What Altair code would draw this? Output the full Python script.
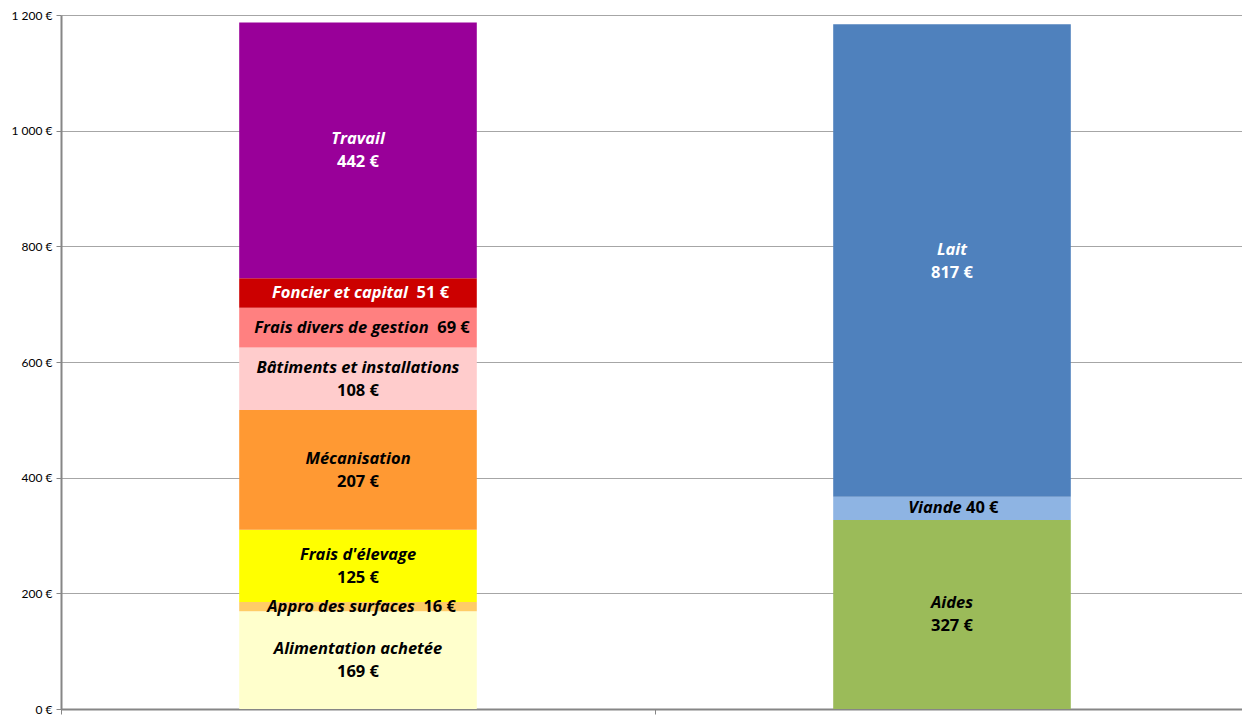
import altair as alt
import pandas as pd

groups = ["Charges", "Produits"]
cost_categories = ["Alimentation achetée", "Appro des surfaces", "Frais d'élevage", "Mécanisation",
                   "Bâtiments et installations", "Frais divers de gestion", "Foncier et capital", "Travail"]
cost_values = [169, 16, 125, 207, 108, 69, 51, 442]
product_categories = ["Aides", "Viande", "Lait"]
product_values = [327, 40, 817]
y_ticks = [0, 200, 400, 600, 800, 1000, 1200]

cost_colors = ["#FFFFCC", "#FFCC66", "#FFFF00", "#FF9933", "#FFCCCC", "#FF8080", "#CC0000", "#990099"]
product_colors = ["#9BBB59", "#8EB4E3", "#4F81BD"]
white_text = ["Foncier et capital", "Travail", "Lait"]
# single-line labels: number of spaces between name and value
one_line_spaces = {"Appro des surfaces": 2, "Frais divers de gestion": 2, "Foncier et capital": 2, "Viande": 1}

FONT = "Open Sans"
FS = 16.5
PLOT_W = 1181
PLOT_H = 694
BAND_RANGE = 1188  # band scale spans slightly past the visible area, as in the original

# approximate glyph advance widths (em) of a bold sans, used only to centre the two-part labels
_W = {"a": .60, "b": .63, "c": .50, "d": .63, "e": .59, "f": .39, "g": .56, "h": .64, "i": .30, "j": .30,
      "k": .60, "l": .30, "m": .96, "n": .64, "o": .62, "p": .63, "q": .63, "r": .44, "s": .49, "t": .42,
      "u": .64, "v": .57, "w": .85, "x": .58, "y": .57, "z": .50, " ": .26, "'": .28, "é": .59, "â": .60,
      "A": .69, "B": .68, "F": .58, "M": .93, "V": .64, "T": .58, "L": .56, "€": .57}


def text_width(s):
    return sum(_W.get(ch, .57) for ch in s) * FS


rows = []
for i, (c, v) in enumerate(zip(cost_categories, cost_values)):
    rows.append({"group": groups[0], "category": c, "value": v, "order": i, "vlabel": f"{v} €"})
for i, (c, v) in enumerate(zip(product_categories, product_values)):
    rows.append({"group": groups[1], "category": c, "value": v, "order": i, "vlabel": f"{v} €"})
df = pd.DataFrame(rows)

all_cats = cost_categories + product_categories
all_colors = cost_colors + product_colors

base = alt.Chart(df).transform_stack(
    stack="value", as_=["y0", "y1"], groupby=["group"], sort=[alt.SortField("order", order="ascending")]
).transform_calculate(mid="(datum.y0 + datum.y1) / 2")

x_scale = alt.Scale(paddingInner=0, paddingOuter=0, range=[0, BAND_RANGE])
x_enc = alt.X("group:N", sort=groups, scale=x_scale,
              axis=alt.Axis(labels=False, title=None, tickBand="extent", domainColor="#868686",
                            domainWidth=2, tickColor="#868686", tickSize=5, grid=False))
y_scale = alt.Scale(domain=[0, 1200], nice=False)

bars = base.mark_bar(width={"band": 0.4}).encode(
    x=x_enc,
    y=alt.Y("y0:Q", scale=y_scale,
            axis=alt.Axis(values=y_ticks, title=None,
                          labelExpr="replace(format(datum.value, ','), ',', ' ') + ' €'",
                          grid=True, gridColor="#A6A6A6", gridWidth=1,
                          domainColor="#868686", domainWidth=2, tickColor="#868686", tickSize=5,
                          labelFont="Lato", labelFontSize=12, labelColor="#000000", labelPadding=4)),
    y2="y1:Q",
    color=alt.Color("category:N", scale=alt.Scale(domain=all_cats, range=all_colors), legend=None),
)

text_color = alt.condition(alt.FieldOneOfPredicate(field="category", oneOf=white_text),
                           alt.value("white"), alt.value("black"))
two_line = [c for c in all_cats if c not in one_line_spaces]
xt = alt.X("group:N", sort=groups, scale=x_scale)
yt = alt.Y("mid:Q", scale=y_scale)

layers = [bars]
tl = base.transform_filter(alt.FieldOneOfPredicate(field="category", oneOf=two_line))
layers.append(tl.mark_text(font=FONT, fontSize=FS, fontWeight="bold", fontStyle="italic", dy=-11).encode(
    x=xt, y=yt, text="category:N", color=text_color))
layers.append(tl.mark_text(font=FONT, fontSize=FS, fontWeight="bold", dy=12).encode(
    x=xt, y=yt, text="vlabel:N", color=text_color))

value_of = dict(zip(cost_categories + product_categories, cost_values + product_values))
for cat, nsp in one_line_spaces.items():
    wn = text_width(cat)
    wv = text_width(f"{value_of[cat]} €")
    gap = text_width(" " * nsp)
    total = wn + gap + wv
    sub = base.transform_filter(alt.FieldEqualPredicate(field="category", equal=cat))
    layers.append(sub.mark_text(font=FONT, fontSize=FS, fontWeight="bold", fontStyle="italic",
                                align="right", dx=-total / 2 + wn).encode(
        x=xt, y=yt, text="category:N", color=text_color))
    layers.append(sub.mark_text(font=FONT, fontSize=FS, fontWeight="bold",
                                align="left", dx=-total / 2 + wn + gap).encode(
        x=xt, y=yt, text="vlabel:N", color=text_color))

chart = alt.layer(*layers).properties(
    width=PLOT_W, height=PLOT_H,
    autosize=alt.AutoSizeParams(type="none"),
    padding={"left": 53, "top": 7, "right": 0, "bottom": 6},
).configure_view(stroke=None)

chart.save("out.html", embed_options={"renderer": "svg", "actions": False})
